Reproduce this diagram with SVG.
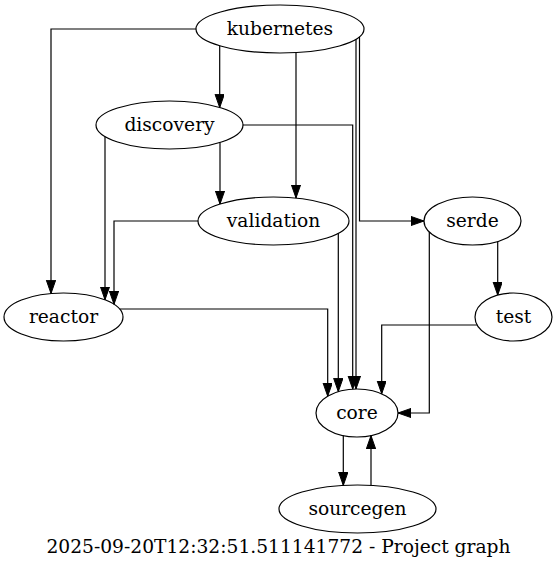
<svg xmlns="http://www.w3.org/2000/svg" width="557" height="569" viewBox="0 0 557 569">
<style>
.node ellipse{fill:none;stroke:#000;stroke-width:1.2}
text{font-family:"DejaVu Serif","Liberation Serif",serif;font-size:18.67px;fill:#000;text-anchor:middle}
.edges path{fill:none;stroke:#000;stroke-width:1.2;marker-end:url(#arr)}
</style>
<defs>
<marker id="arr" markerUnits="userSpaceOnUse" markerWidth="15" markerHeight="11" refX="13.3" refY="4.67" orient="auto" viewBox="0 0 15 11">
<path d="M0,0 L13.3,4.67 L0,9.33 z" fill="#000" stroke="#000" stroke-width="1"/>
</marker>
</defs>
<rect width="557" height="569" fill="#fff"/>
<g class="edges">
<path d="M196,29 H51 V293.5"/>
<path d="M219.7,45.7 V107.6"/>
<path d="M296,52.6 V198"/>
<path d="M356,39.2 V389"/>
<path d="M359.5,36.8 V221 H424"/>
<path d="M105,136.5 V299.8"/>
<path d="M220,142.4 V204.1"/>
<path d="M243,125 H352.7 V389.1"/>
<path d="M198,221 H114 V304.3"/>
<path d="M338.3,233.3 V391.6"/>
<path d="M119.6,309 H327.7 V396.2"/>
<path d="M497.7,241.5 V295.1"/>
<path d="M429.3,231.9 V413 H398"/>
<path d="M477.2,325 H381.7 V393.8"/>
<path d="M343.3,435.6 V485.4"/>
<path d="M371,485.4 V435.6"/>
</g>
<g id="kubernetes" class="node"><ellipse cx="280" cy="29" rx="84" ry="24"/><text x="280" y="35">kubernetes</text></g>
<g id="discovery" class="node"><ellipse cx="169.5" cy="125" rx="73.5" ry="24"/><text x="169.5" y="131">discovery</text></g>
<g id="validation" class="node"><ellipse cx="273.5" cy="221" rx="75.5" ry="24"/><text x="273.5" y="227">validation</text></g>
<g id="serde" class="node"><ellipse cx="472.5" cy="221" rx="48.5" ry="24"/><text x="472.5" y="227">serde</text></g>
<g id="reactor" class="node"><ellipse cx="63.5" cy="317" rx="59.5" ry="24"/><text x="63.5" y="323">reactor</text></g>
<g id="test" class="node"><ellipse cx="513.5" cy="317" rx="38.5" ry="24"/><text x="513.5" y="323">test</text></g>
<g id="core" class="node"><ellipse cx="357" cy="413" rx="41" ry="24"/><text x="357" y="419">core</text></g>
<g id="sourcegen" class="node"><ellipse cx="357.5" cy="509" rx="78.5" ry="24"/><text x="357.5" y="515">sourcegen</text></g>
<text x="278.5" y="553">2025-09-20T12:32:51.511141772 - Project graph</text>
</svg>
